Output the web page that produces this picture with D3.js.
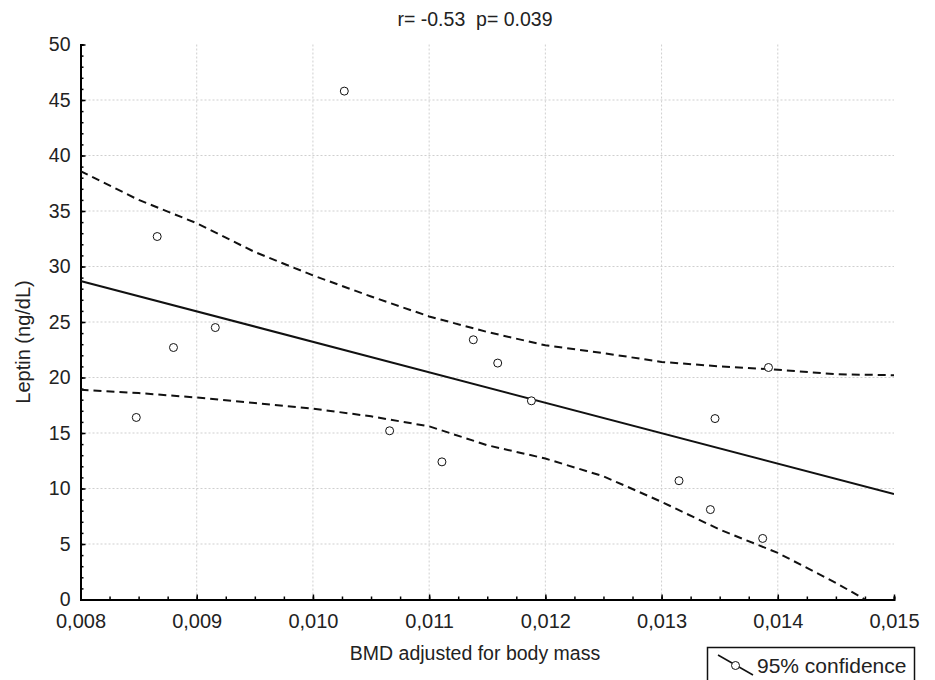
<!DOCTYPE html>
<html>
<head>
<meta charset="utf-8">
<script src="https://cdn.jsdelivr.net/npm/d3@7"></script>
<style>
  body { margin: 0; background: #fff; }
  svg { font-family: "Liberation Sans", Arial, sans-serif; }
</style>
</head>
<body>
<div id="chart"></div>
<script>
const width = 935;
const height = 680;

const margin = { left: 80.5, right: 41, top: 44.5, bottom: 80.5 };

// points
const bmd = [0.00848, 0.00866, 0.00880, 0.00916, 0.01027, 0.01066, 0.01111, 0.01138,
  0.01159, 0.01188, 0.01315, 0.01342, 0.01346, 0.01387, 0.01392];
const leptin = [16.4, 32.7, 22.7, 24.5, 45.8, 15.2, 12.4, 23.4,
  21.3, 17.9, 10.7, 8.1, 16.3, 5.5, 20.9];

// regression line endpoints
const fitX = [0.008, 0.015];
const fitY = [28.7, 9.5];

// 95% confidence band
const bandX = [0.008, 0.0085, 0.009, 0.0095, 0.010, 0.0105, 0.011, 0.0115,
  0.012, 0.0125, 0.013, 0.0135, 0.014, 0.0145, 0.015];
const upperY = [38.6, 36.0, 33.9, 31.3, 29.2, 27.3, 25.5, 24.1,
  22.9, 22.2, 21.4, 21.0, 20.7, 20.3, 20.2];
const lowerX = [0.008, 0.0085, 0.009, 0.0095, 0.010, 0.0105, 0.011, 0.0115,
  0.012, 0.0125, 0.013, 0.0135, 0.014, 0.0145, 0.01475];
const lowerY = [18.9, 18.6, 18.2, 17.7, 17.2, 16.5, 15.6, 13.9,
  12.7, 11.1, 8.8, 6.3, 4.2, 1.5, 0];

const xTicks = [0.008, 0.009, 0.010, 0.011, 0.012, 0.013, 0.014, 0.015];
const yTicks = [0, 5, 10, 15, 20, 25, 30, 35, 40, 45, 50];

const svg = d3.select("#chart").append("svg")
    .attr("width", width)
    .attr("height", height);

const xScale = d3.scaleLinear()
    .domain([0.008, 0.015])
    .range([margin.left, width - margin.right]);

const yScale = d3.scaleLinear()
    .domain([0, 50])
    .range([height - margin.bottom, margin.top]);

// grid
svg.append("g")
    .selectAll("line")
    .data(yTicks.filter(d => d > 0 && d < 50))
    .join("line")
      .attr("x1", margin.left)
      .attr("x2", width - margin.right)
      .attr("y1", d => yScale(d))
      .attr("y2", d => yScale(d))
      .attr("stroke", "#cfcfcf")
      .attr("stroke-dasharray", "2,2");

svg.append("g")
    .selectAll("line")
    .data(xTicks.filter(d => d > 0.008 && d < 0.015))
    .join("line")
      .attr("x1", d => xScale(d))
      .attr("x2", d => xScale(d))
      .attr("y1", margin.top)
      .attr("y2", height - margin.bottom)
      .attr("stroke", "#cfcfcf")
      .attr("stroke-dasharray", "2,2");

// axes
const xAxis = svg.append("g")
    .attr("transform", "translate(0," + (height - margin.bottom) + ")");
xAxis.call(d3.axisBottom(xScale)
    .tickValues(d3.range(0, 29).map(i => 0.008 + i * 0.00025))
    .tickSize(-3)
    .tickFormat(""));
xAxis.selectAll(".tick line").attr("stroke-width", 1.5);
xAxis.selectAll(".domain").attr("stroke-width", 2);

const xMajor = svg.append("g")
    .attr("transform", "translate(0," + (height - margin.bottom) + ")");
xMajor.call(d3.axisBottom(xScale)
    .tickValues(xTicks)
    .tickSize(-5)
    .tickPadding(14)
    .tickFormat(d => d3.format(".3f")(d).replace(".", ",")));
xMajor.selectAll(".domain").remove();
xMajor.selectAll(".tick line").attr("stroke-width", 1.5);
xMajor.selectAll(".tick text")
    .attr("fill", "#222")
    .style("font-size", "20px");

const yAxis = svg.append("g")
    .attr("transform", "translate(" + margin.left + ",0)");
yAxis.call(d3.axisLeft(yScale)
    .tickValues(d3.range(0, 51))
    .tickSize(-3)
    .tickFormat(""));
yAxis.selectAll(".tick line").attr("stroke-width", 1.5);
yAxis.selectAll(".domain").attr("stroke-width", 2);

const yMajor = svg.append("g")
    .attr("transform", "translate(" + margin.left + ",0)");
yMajor.call(d3.axisLeft(yScale)
    .tickValues(yTicks)
    .tickSize(-5)
    .tickPadding(10)
    .tickFormat(d => d));
yMajor.selectAll(".domain").remove();
yMajor.selectAll(".tick line").attr("stroke-width", 1.5);
yMajor.selectAll(".tick text")
    .attr("fill", "#222")
    .style("font-size", "19.5px");

// clip plot area
svg.append("clipPath")
    .attr("id", "plot-clip")
  .append("rect")
    .attr("x", margin.left)
    .attr("y", margin.top - 5)
    .attr("width", width - margin.left - margin.right)
    .attr("height", height - margin.top - margin.bottom + 5);

const plot = svg.append("g").attr("clip-path", "url(#plot-clip)");

const line = d3.line()
    .x(d => xScale(d[0]))
    .y(d => yScale(d[1]));

plot.append("path")
    .attr("d", line(d3.zip(bandX, upperY)))
    .attr("fill", "none")
    .attr("stroke", "#111")
    .attr("stroke-width", 2)
    .attr("stroke-dasharray", "8,5");

plot.append("path")
    .attr("d", line(d3.zip(lowerX, lowerY)))
    .attr("fill", "none")
    .attr("stroke", "#111")
    .attr("stroke-width", 2)
    .attr("stroke-dasharray", "8,5");

plot.append("path")
    .attr("d", line(d3.zip(fitX, fitY)))
    .attr("fill", "none")
    .attr("stroke", "#111")
    .attr("stroke-width", 2);

svg.selectAll("circle.pt")
    .data(d3.zip(bmd, leptin))
    .join("circle")
      .attr("class", "pt")
      .attr("cx", d => xScale(d[0]))
      .attr("cy", d => yScale(d[1]))
      .attr("r", 4)
      .attr("fill", "white")
      .attr("stroke", "#111")
      .attr("stroke-width", 1);

// title and axis titles
svg.append("text")
    .attr("x", 475)
    .attr("y", 26)
    .attr("text-anchor", "middle")
    .style("font-size", "19.5px")
    .style("white-space", "pre")
    .attr("fill", "#222")
    .text("r= -0.53  p= 0.039");

svg.append("text")
    .attr("x", 475)
    .attr("y", 660)
    .attr("text-anchor", "middle")
    .style("font-size", "19.5px")
    .attr("fill", "#222")
    .text("BMD adjusted for body mass");

svg.append("text")
    .attr("transform", "translate(30, 342) rotate(-90)")
    .attr("text-anchor", "middle")
    .style("font-size", "20px")
    .attr("fill", "#222")
    .text("Leptin (ng/dL)");

// legend
const legend = svg.append("g");
legend.append("rect")
    .attr("x", 707.5)
    .attr("y", 647.5)
    .attr("width", 207)
    .attr("height", 40)
    .attr("fill", "white")
    .attr("stroke", "#111")
    .attr("stroke-width", 1.5);
legend.append("line")
    .attr("x1", 718).attr("y1", 655)
    .attr("x2", 753).attr("y2", 675)
    .attr("stroke", "#111")
    .attr("stroke-width", 1.5);
legend.append("circle")
    .attr("cx", 735.5).attr("cy", 665.5)
    .attr("r", 4)
    .attr("fill", "white")
    .attr("stroke", "#111");
legend.append("text")
    .attr("x", 757)
    .attr("y", 673)
    .style("font-size", "21px")
    .attr("fill", "#222")
    .text("95% confidence");
</script>
</body>
</html>
